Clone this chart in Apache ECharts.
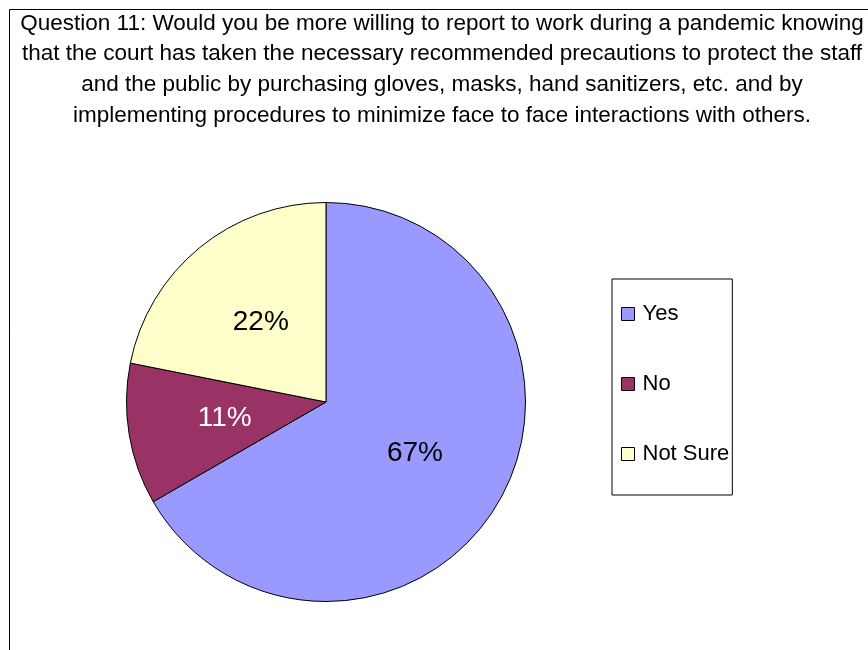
<!DOCTYPE html>
<html>
<head>
<meta charset="utf-8">
<script src="https://cdn.jsdelivr.net/npm/echarts@6/dist/echarts.min.js"></script>
<style>
html,body{margin:0;padding:0;background:#fff;}
#chart{width:868px;height:650px;}
</style>
</head>
<body>
<div id="chart"></div>
<script>
var titleLines = [
  "Question 11: Would you be more willing to report to work during a pandemic knowing",
  "that the court has taken the necessary recommended precautions to protect the staff",
  "and the public by purchasing gloves, masks, hand sanitizers, etc. and by",
  "implementing procedures to minimize face to face interactions with others."
];
var categories = ["Yes", "No", "Not Sure"];
var values = [64, 11, 21];
var colors = ["#9999FF", "#993366", "#FFFFCC"];
var labelColors = ["#000000", "#FFFFFF", "#000000"];

var FONT = "'Liberation Sans', Arial, Helvetica, sans-serif";
var chart = echarts.init(document.getElementById('chart'), null, {renderer: 'canvas'});
var total = values.reduce(function(a, b){ return a + b; }, 0);

chart.setOption({
  animation: false,
  backgroundColor: '#ffffff',
  graphic: [
    {
      type: 'rect', silent: true, z: 0,
      shape: {x: 9.5, y: 9.5, width: 900, height: 700},
      style: {fill: 'none', stroke: '#000', lineWidth: 1}
    },
    {
      type: 'text', silent: true, z: 10,
      x: 442, y: 8,
      style: {
        text: titleLines.join('\n'),
        font: '22.5px ' + FONT,
        fill: '#000',
        textAlign: 'center',
        textVerticalAlign: 'top',
        lineHeight: 30.7
      }
    }
  ],
  legend: {
    orient: 'vertical',
    left: 612,
    top: 279,
    padding: [24, 3, 30, 9],
    itemGap: 48,
    itemWidth: 13,
    itemHeight: 13,
    icon: 'rect',
    borderColor: '#000',
    borderWidth: 1,
    selectedMode: false,
    data: categories,
    itemStyle: {borderColor: '#000', borderWidth: 1},
    textStyle: {fontSize: 22, color: '#000', fontFamily: FONT, padding: [0, 0, 0, 3]}
  },
  series: [{
    type: 'pie',
    center: [326, 402],
    radius: [0, 199.5],
    startAngle: 90,
    clockwise: true,
    silent: true,
    data: categories.map(function(c, i){
      return {
        name: c, value: values[i],
        itemStyle: {color: colors[i]},
        label: {color: labelColors[i]}
      };
    }),
    itemStyle: {borderColor: '#000', borderWidth: 1},
    label: {
      show: true,
      position: 'inside',
      fontSize: 28,
      fontFamily: FONT,
      formatter: function(p){ return Math.round(p.value / total * 100) + '%'; }
    },
    labelLine: {show: false},
    emphasis: {disabled: true}
  }]
});
</script>
</body>
</html>
